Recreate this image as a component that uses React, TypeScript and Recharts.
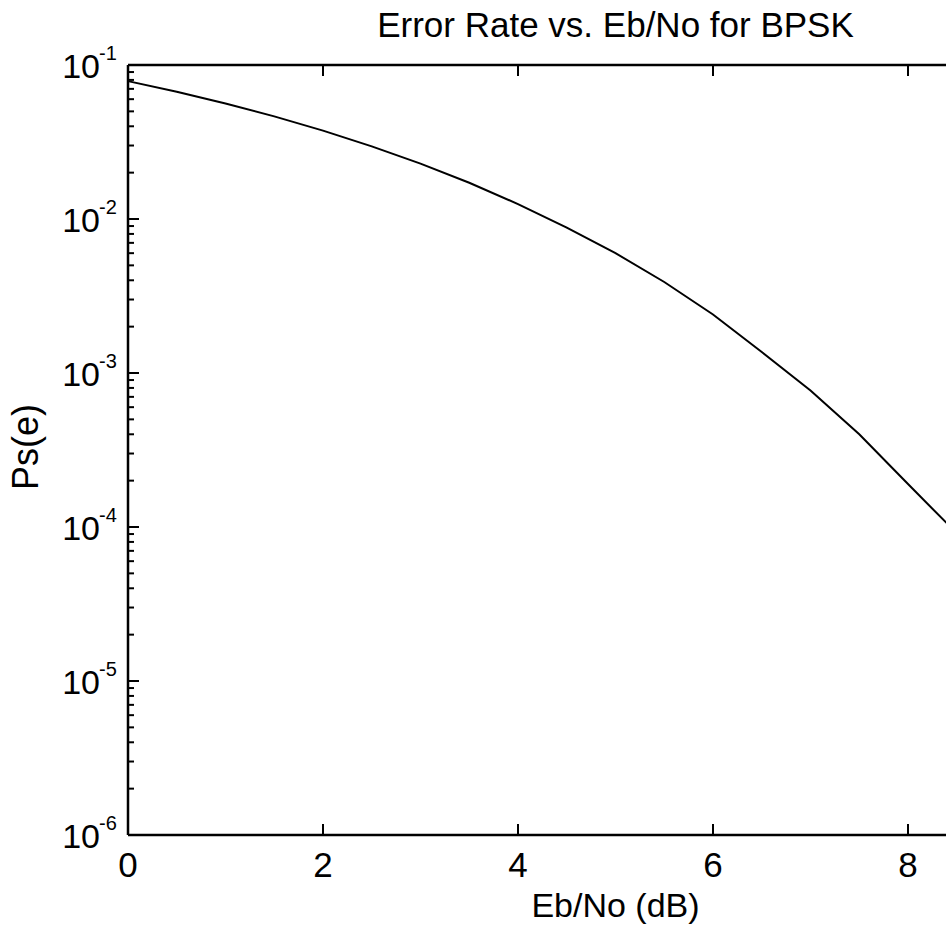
import React from 'react';
import { LineChart, Line, XAxis, YAxis } from 'recharts';

// ---- data ----
const ebNo = [0, 0.5, 1, 1.5, 2, 2.5, 3, 3.5, 4, 4.5, 5, 5.5, 6, 6.5, 7, 7.5, 8, 8.5, 9, 9.5, 10];
const errorRate = [
  0.0786, 0.0671, 0.0563, 0.0464, 0.0375, 0.0296, 0.0229, 0.0172, 0.0125, 0.0088,
  0.006, 0.0039, 0.0024, 0.00137, 0.00077, 0.0004, 0.00019, 0.000091, 0.000034, 0.0000104, 0.0000039,
];
const xTicks = [0, 2, 4, 6, 8];
const yMajorTicks = [1e-1, 1e-2, 1e-3, 1e-4, 1e-5, 1e-6];
const yTickExponents = ['-1', '-2', '-3', '-4', '-5', '-6'];
const yMinorMultipliers = [2, 3, 4, 5, 6, 7, 8, 9];

const titleText = 'Error Rate vs. Eb/No for BPSK';
const xLabelText = 'Eb/No (dB)';
const yLabelText = 'Ps(e)';

const data = ebNo.map((x, i) => ({ x, y: errorRate[i] }));

const yAllTicks: number[] = [];
yMajorTicks.forEach((m) => {
  yAllTicks.push(m);
  if (m < 1e-1) yMinorMultipliers.forEach((k) => yAllTicks.push(m * k));
});
yAllTicks.sort((a, b) => a - b);

// ---- layout ----
const VIEW_W = 946;
const VIEW_H = 929;
const CHART_W = 1200;
const CHART_H = 929;
const PLOT_LEFT = 128;
const PLOT_TOP = 65;
const PLOT_BOTTOM = 835;
const PLOT_RIGHT = 1103;
const YAXIS_W = 100;
const TOP_AXIS_H = 30;
const BOTTOM_AXIS_H = 60;
const FONT = '"Liberation Sans", Arial, Helvetica, sans-serif';

const YTick = (props: any) => {
  const { x, y, payload } = props;
  const v = payload.value;
  const idx = yMajorTicks.findIndex((m) => Math.abs(m - v) / m < 1e-6);
  if (idx < 0) {
    return <line x1={x} x2={x + 6} y1={y} y2={y} stroke="#000" strokeWidth={2} />;
  }
  return (
    <g>
      <line x1={x} x2={x + 11} y1={y} y2={y} stroke="#000" strokeWidth={2} />
      <text x={x - 28} y={y + 13} textAnchor="end" fontSize={34} fontFamily={FONT} fill="#000">
        10
      </text>
      <text x={x - 29} y={y - 5} textAnchor="start" fontSize={20} fontFamily={FONT} fill="#000">
        {yTickExponents[idx]}
      </text>
    </g>
  );
};

const XBottomTick = (props: any) => {
  const { x, y, payload } = props;
  return (
    <g>
      <line x1={x} x2={x} y1={y} y2={y - 11} stroke="#000" strokeWidth={2} />
      <text x={x} y={y + 42} textAnchor="middle" fontSize={35} fontFamily={FONT} fill="#000">
        {payload.value}
      </text>
    </g>
  );
};

const XTopTick = (props: any) => {
  const { x, y } = props;
  return <line x1={x} x2={x} y1={y} y2={y + 11} stroke="#000" strokeWidth={2} />;
};

export default function App() {
  const plotCenterX = (PLOT_LEFT + PLOT_RIGHT) / 2;
  const plotCenterY = (PLOT_TOP + PLOT_BOTTOM) / 2;
  return (
    <div
      style={{
        position: 'fixed',
        left: 0,
        top: 0,
        width: VIEW_W,
        height: VIEW_H,
        overflow: 'hidden',
        background: '#fff',
      }}
    >
      <div style={{ position: 'absolute', left: 0, top: 0 }}>
        <LineChart
          width={CHART_W}
          height={CHART_H}
          data={data}
          margin={{
            top: PLOT_TOP - TOP_AXIS_H,
            left: PLOT_LEFT - YAXIS_W,
            bottom: CHART_H - PLOT_BOTTOM - BOTTOM_AXIS_H,
            right: CHART_W - PLOT_RIGHT,
          }}
        >
          <XAxis
            xAxisId="bottom"
            dataKey="x"
            type="number"
            domain={[0, 10]}
            ticks={xTicks}
            interval={0}
            height={BOTTOM_AXIS_H}
            tickSize={0}
            tickMargin={0}
            tick={<XBottomTick />}
            axisLine={{ stroke: '#000', strokeWidth: 2.5 }}
            tickLine={false}
          />
          <XAxis
            xAxisId="top"
            orientation="top"
            dataKey="x"
            type="number"
            domain={[0, 10]}
            ticks={xTicks}
            interval={0}
            height={TOP_AXIS_H}
            tickSize={0}
            tickMargin={0}
            tick={<XTopTick />}
            axisLine={{ stroke: '#000', strokeWidth: 2.5 }}
            tickLine={false}
          />
          <YAxis
            type="number"
            scale="log"
            domain={[1e-6, 1e-1]}
            allowDataOverflow
            ticks={yAllTicks}
            interval={0}
            width={YAXIS_W}
            tickSize={0}
            tickMargin={0}
            tick={<YTick />}
            axisLine={{ stroke: '#000', strokeWidth: 2.5 }}
            tickLine={false}
          />
          <Line
            xAxisId="bottom"
            type="linear"
            dataKey="y"
            stroke="#000"
            strokeWidth={2}
            dot={false}
            isAnimationActive={false}
          />
        </LineChart>
      </div>
      <svg
        width={VIEW_W}
        height={VIEW_H}
        style={{ position: 'absolute', left: 0, top: 0, pointerEvents: 'none' }}
      >
        <text x={plotCenterX} y={37} textAnchor="middle" fontSize={35} fontFamily={FONT} fill="#000">
          {titleText}
        </text>
        <text x={plotCenterX} y={917} textAnchor="middle" fontSize={34} fontFamily={FONT} fill="#000">
          {xLabelText}
        </text>
        <text
          x={38}
          y={plotCenterY - 3}
          textAnchor="middle"
          fontSize={36}
          fontFamily={FONT}
          fill="#000"
          transform={`rotate(-90 38 ${plotCenterY - 3})`}
        >
          {yLabelText}
        </text>
      </svg>
    </div>
  );
}
